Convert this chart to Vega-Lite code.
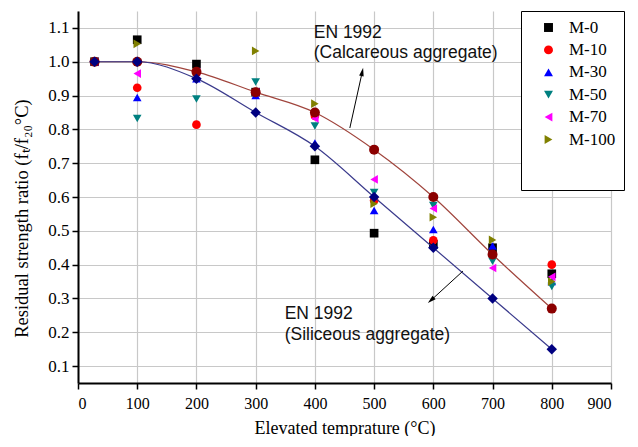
{
  "$schema": "https://vega.github.io/schema/vega-lite/v6.json",
  "width": 533,
  "height": 372,
  "autosize": {"type": "none"},
  "padding": {"left": 78, "top": 11, "right": 27, "bottom": 53},
  "background": "white",
  "config": {"view": {"stroke": null}, "font": "Liberation Serif"},
  "datasets": {
    "exp": [
      {"series": "M-0", "t": 28, "v": 1.0}, {"series": "M-0", "t": 100, "v": 1.065}, {"series": "M-0", "t": 200, "v": 0.993}, {"series": "M-0", "t": 300, "v": 0.91}, {"series": "M-0", "t": 400, "v": 0.71}, {"series": "M-0", "t": 500, "v": 0.493}, {"series": "M-0", "t": 600, "v": 0.46}, {"series": "M-0", "t": 700, "v": 0.45}, {"series": "M-0", "t": 800, "v": 0.373},
      {"series": "M-10", "t": 28, "v": 1.0}, {"series": "M-10", "t": 100, "v": 0.923}, {"series": "M-10", "t": 200, "v": 0.814}, {"series": "M-10", "t": 300, "v": 0.91}, {"series": "M-10", "t": 400, "v": 0.84}, {"series": "M-10", "t": 500, "v": 0.59}, {"series": "M-10", "t": 600, "v": 0.472}, {"series": "M-10", "t": 700, "v": 0.43}, {"series": "M-10", "t": 800, "v": 0.40},
      {"series": "M-30", "t": 28, "v": 1.0}, {"series": "M-30", "t": 100, "v": 0.894}, {"series": "M-30", "t": 200, "v": 0.95}, {"series": "M-30", "t": 300, "v": 0.90}, {"series": "M-30", "t": 400, "v": 0.76}, {"series": "M-30", "t": 500, "v": 0.56}, {"series": "M-30", "t": 600, "v": 0.504}, {"series": "M-30", "t": 700, "v": 0.455}, {"series": "M-30", "t": 800, "v": 0.35},
      {"series": "M-50", "t": 28, "v": 1.0}, {"series": "M-50", "t": 100, "v": 0.832}, {"series": "M-50", "t": 200, "v": 0.89}, {"series": "M-50", "t": 300, "v": 0.94}, {"series": "M-50", "t": 400, "v": 0.81}, {"series": "M-50", "t": 500, "v": 0.613}, {"series": "M-50", "t": 600, "v": 0.575}, {"series": "M-50", "t": 700, "v": 0.41}, {"series": "M-50", "t": 800, "v": 0.335},
      {"series": "M-70", "t": 28, "v": 1.0}, {"series": "M-70", "t": 100, "v": 0.965}, {"series": "M-70", "t": 200, "v": 0.97}, {"series": "M-70", "t": 300, "v": 0.91}, {"series": "M-70", "t": 400, "v": 0.832}, {"series": "M-70", "t": 500, "v": 0.652}, {"series": "M-70", "t": 600, "v": 0.566}, {"series": "M-70", "t": 700, "v": 0.39}, {"series": "M-70", "t": 800, "v": 0.364},
      {"series": "M-100", "t": 28, "v": 1.0}, {"series": "M-100", "t": 100, "v": 1.053}, {"series": "M-100", "t": 200, "v": 0.97}, {"series": "M-100", "t": 300, "v": 1.032}, {"series": "M-100", "t": 400, "v": 0.876}, {"series": "M-100", "t": 500, "v": 0.58}, {"series": "M-100", "t": 600, "v": 0.54}, {"series": "M-100", "t": 700, "v": 0.473}, {"series": "M-100", "t": 800, "v": 0.35}
    ],
    "en": [
      {"curve": "calc", "t": 28, "v": 1.0}, {"curve": "calc", "t": 100, "v": 1.0}, {"curve": "calc", "t": 200, "v": 0.97}, {"curve": "calc", "t": 300, "v": 0.91}, {"curve": "calc", "t": 400, "v": 0.85}, {"curve": "calc", "t": 500, "v": 0.74}, {"curve": "calc", "t": 600, "v": 0.60}, {"curve": "calc", "t": 700, "v": 0.43}, {"curve": "calc", "t": 800, "v": 0.27},
      {"curve": "sil", "t": 28, "v": 1.0}, {"curve": "sil", "t": 100, "v": 1.0}, {"curve": "sil", "t": 200, "v": 0.95}, {"curve": "sil", "t": 300, "v": 0.85}, {"curve": "sil", "t": 400, "v": 0.75}, {"curve": "sil", "t": 500, "v": 0.60}, {"curve": "sil", "t": 600, "v": 0.45}, {"curve": "sil", "t": 700, "v": 0.30}, {"curve": "sil", "t": 800, "v": 0.15}
    ],
    "notes": [
      {"label": "EN 1992", "t": 398, "v": 1.085},
      {"label": "(Calcareous aggregate)", "t": 398, "v": 1.026},
      {"label": "EN 1992", "t": 349, "v": 0.254},
      {"label": "(Siliceous aggregate)", "t": 349, "v": 0.192}
    ],
    "arrows": [
      {"arrow": "calc", "end": "tail", "t": 459, "v": 0.804},
      {"arrow": "calc", "end": "tip", "t": 480, "v": 0.970},
      {"arrow": "sil", "end": "tail", "t": 650, "v": 0.381},
      {"arrow": "sil", "end": "tip", "t": 596, "v": 0.2945}
    ]
  },
  "encoding": {
    "x": {
      "field": "t", "type": "quantitative",
      "scale": {"domain": [0, 900], "nice": false, "zero": false},
      "axis": {
        "values": [0, 100, 200, 300, 400, 500, 600, 700, 800, 900],
        "format": "d",
        "title": "Elevated temprature (°C)",
        "titleFont": "Liberation Serif", "titleFontSize": 18, "titleFontWeight": "normal", "titleColor": "black", "titlePadding": 8,
        "labelFont": "Liberation Serif", "labelFontSize": 16, "labelColor": "black", "labelPadding": 6,
        "domainColor": "black", "domainWidth": 2,
        "tickColor": "black", "tickWidth": 1.5, "tickSize": 6,
        "gridColor": "#c8c8c8", "gridWidth": 1.2
      }
    },
    "y": {
      "field": "v", "type": "quantitative",
      "scale": {"domain": [0.05, 1.15], "nice": false, "zero": false},
      "axis": {
        "values": [0.1, 0.2, 0.3, 0.4, 0.5, 0.6, 0.7, 0.8, 0.9, 1.0, 1.1],
        "format": ".1f",
        "title": "Residual strength ratio (fₜ/f₂₀°C)",
        "titleFont": "Liberation Serif", "titleFontSize": 18.5, "titleFontWeight": "normal", "titleColor": "black", "titlePadding": 16, "titleY": 207,
        "labelFont": "Liberation Serif", "labelFontSize": 17, "labelColor": "black", "labelPadding": 3,
        "domainColor": "black", "domainWidth": 2,
        "tickColor": "black", "tickWidth": 1.5, "tickSize": 6,
        "gridColor": "#c8c8c8", "gridWidth": 1.2
      }
    }
  },
  "layer": [
    {
      "data": {"name": "exp"},
      "mark": {"type": "point", "filled": true, "opacity": 1, "size": 75},
      "encoding": {
        "color": {
          "field": "series", "type": "nominal",
          "scale": {"domain": ["M-0", "M-10", "M-30", "M-50", "M-70", "M-100"], "range": ["#000000", "#FF0000", "#0000FF", "#008080", "#FF00FF", "#808000"]},
          "legend": {"title": " ", "titleOrient": "bottom", "titleFontSize": 30, "titlePadding": 4, "orient": "none", "legendX": 443, "legendY": 0, "strokeColor": "black", "fillColor": "white", "padding": 8, "labelFont": "Liberation Serif", "labelFontSize": 17, "labelColor": "black", "symbolSize": 80, "symbolOpacity": 1, "symbolStrokeWidth": 0, "labelOffset": 12, "rowPadding": 4.4, "symbolOffset": 11}
        },
        "shape": {
          "field": "series", "type": "nominal",
          "scale": {"domain": ["M-0", "M-10", "M-30", "M-50", "M-70", "M-100"], "range": ["square", "circle", "triangle-up", "triangle-down", "triangle-left", "triangle-right"]},
          "legend": {"title": " ", "titleOrient": "bottom", "titleFontSize": 30, "titlePadding": 4, "orient": "none", "legendX": 443, "legendY": 0, "strokeColor": "black", "fillColor": "white", "padding": 8, "labelFont": "Liberation Serif", "labelFontSize": 17, "labelColor": "black", "symbolSize": 80, "symbolOpacity": 1, "symbolStrokeWidth": 0, "labelOffset": 12, "rowPadding": 4.4, "symbolOffset": 11}
        }
      }
    },
    {
      "data": {"name": "en"},
      "transform": [{"filter": "datum.curve === 'calc'"}],
      "mark": {"type": "line", "color": "#A0443C", "strokeWidth": 1.2, "interpolate": "monotone"}
    },
    {
      "data": {"name": "en"},
      "transform": [{"filter": "datum.curve === 'sil'"}],
      "mark": {"type": "line", "color": "#3A3A8C", "strokeWidth": 1.2, "interpolate": "monotone"}
    },
    {
      "data": {"name": "en"},
      "transform": [{"filter": "datum.curve === 'calc'"}],
      "mark": {"type": "point", "filled": true, "opacity": 1, "shape": "circle", "size": 100, "color": "#8B0000"}
    },
    {
      "data": {"name": "en"},
      "transform": [{"filter": "datum.curve === 'sil'"}],
      "mark": {"type": "point", "filled": true, "opacity": 1, "shape": "diamond", "size": 110, "color": "#000080"}
    },
    {
      "data": {"name": "arrows"},
      "mark": {"type": "line", "color": "black", "strokeWidth": 1},
      "encoding": {"detail": {"field": "arrow", "type": "nominal"}}
    },
    {
      "data": {"name": "arrows"},
      "transform": [{"filter": "datum.end === 'tip' && datum.arrow === 'calc'"}],
      "mark": {"type": "point", "filled": true, "opacity": 1, "color": "black", "shape": "M0,-1L-0.55,1L0.55,1Z", "size": 70, "angle": 12}
    },
    {
      "data": {"name": "arrows"},
      "transform": [{"filter": "datum.end === 'tip' && datum.arrow === 'sil'"}],
      "mark": {"type": "point", "filled": true, "opacity": 1, "color": "black", "shape": "M0,-1L-0.55,1L0.55,1Z", "size": 70, "angle": 228}
    },
    {
      "data": {"name": "notes"},
      "mark": {"type": "text", "align": "left", "baseline": "middle", "font": "Liberation Sans", "fontSize": 17.5, "color": "#111111"},
      "encoding": {"text": {"field": "label", "type": "nominal"}}
    }
  ]
}
